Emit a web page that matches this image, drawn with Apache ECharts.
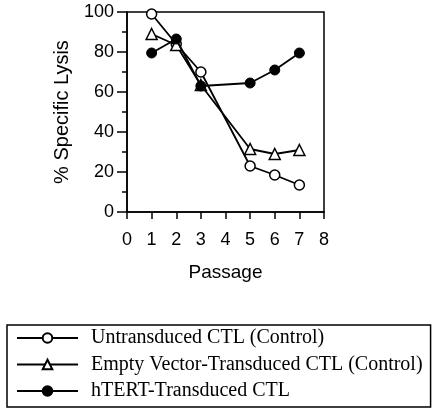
<!DOCTYPE html>
<html><head><meta charset="utf-8">
<script src="https://cdn.jsdelivr.net/npm/echarts@6/dist/echarts.min.js"></script>
<style>html,body{margin:0;padding:0;background:#fff}#c{width:440px;height:413px}</style>
</head><body><div id="c"></div>
<script>
const passages = [1, 2, 3, 5, 6, 7];
const untransduced = [99, 84, 70, 23, 18.5, 13.5];
const emptyVector = [89, 83.5, 63.5, 31.5, 29, 31];
const hTERT = [79.5, 86.5, 63, 64.5, 71, 79.5];
const seriesNames = ['Untransduced CTL (Control)', 'Empty Vector-Transduced CTL (Control)', 'hTERT-Transduced CTL'];

const pair = (xs, ys) => xs.map((x, i) => [x, ys[i]]);
const chart = echarts.init(document.getElementById('c'));
const sans = 'Liberation Sans, Arial, sans-serif';
const common = { type: 'line', symbolSize: 10, lineStyle: { color: '#000', width: 1.8 }, animation: false };
chart.setOption({
  backgroundColor: '#fff',
  grid: { left: 127, right: 116, top: 12, bottom: 201, show: true, borderColor: '#000', borderWidth: 1.5, containLabel: false },
  xAxis: {
    type: 'value', min: 0, max: 8, interval: 1,
    name: 'Passage', nameLocation: 'middle', nameGap: 51,
    nameTextStyle: { fontFamily: sans, fontSize: 19, color: '#000' },
    axisLine: { lineStyle: { color: '#000', width: 1.5 } },
    axisTick: { inside: false, length: 7, lineStyle: { color: '#000', width: 1.5 } },
    axisLabel: { fontFamily: sans, fontSize: 18, color: '#000', margin: 19 },
    splitLine: { show: false }
  },
  yAxis: {
    type: 'value', min: 0, max: 100, interval: 20,
    name: '% Specific Lysis', nameLocation: 'middle', nameGap: 55, nameRotate: 90,
    nameTextStyle: { fontFamily: sans, fontSize: 20, color: '#000' },
    axisLine: { show: true, lineStyle: { color: '#000', width: 1.5 } },
    axisTick: { show: true, inside: false, length: 10, lineStyle: { color: '#000', width: 1.5 } },
    minorTick: { show: true, splitNumber: 2, length: 5, lineStyle: { color: '#000', width: 1.5 } },
    axisLabel: { fontFamily: sans, fontSize: 18, color: '#000', margin: 13 },
    splitLine: { show: false }
  },
  legend: {
    orient: 'vertical', left: 7, top: 325, height: 100,
    data: seriesNames,
    itemWidth: 61, itemHeight: 12, itemGap: 6.5,
    padding: [3, 8, 6, 9],
    borderColor: '#000', borderWidth: 1.5,
    textStyle: { fontFamily: 'Liberation Serif, Times New Roman, serif', fontSize: 20, lineHeight: 20, color: '#000', padding: [0, 0, 0, 8] }
  },
  series: [
    Object.assign({}, common, { name: seriesNames[0], data: pair(passages, untransduced), symbol: 'circle', itemStyle: { color: '#fff', borderColor: '#000', borderWidth: 1.5 }, z: 2 }),
    Object.assign({}, common, { name: seriesNames[1], data: pair(passages, emptyVector), symbol: 'triangle', symbolSize: 11, itemStyle: { color: '#fff', borderColor: '#000', borderWidth: 1.5 }, z: 3 }),
    Object.assign({}, common, { name: seriesNames[2], data: pair(passages, hTERT), symbol: 'circle', itemStyle: { color: '#000', borderColor: '#000', borderWidth: 1 }, z: 4 })
  ]
});
</script></body></html>
